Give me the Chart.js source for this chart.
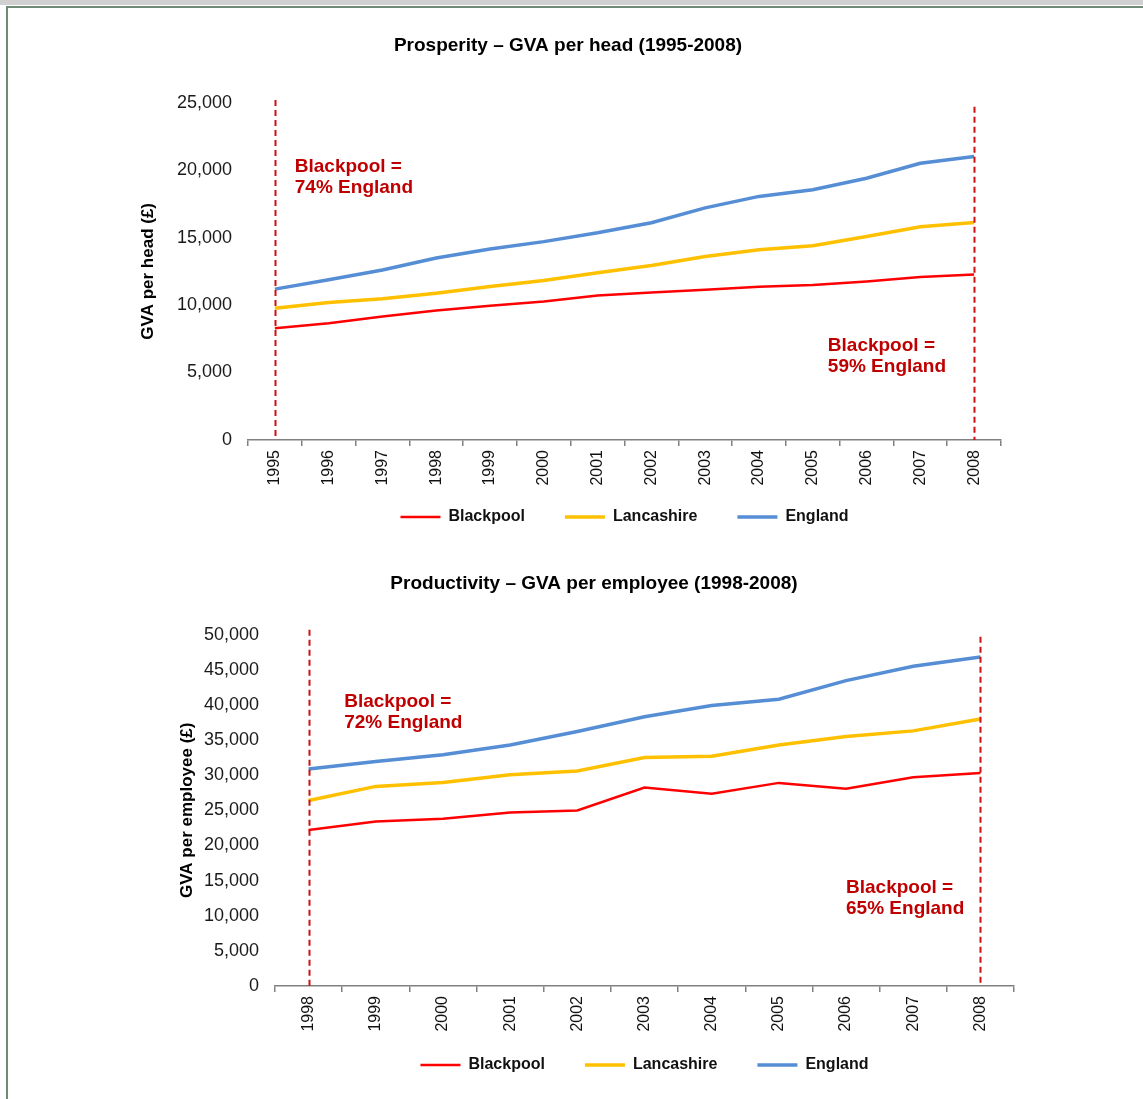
<!DOCTYPE html>
<html>
<head>
<meta charset="utf-8">
<script src="https://cdn.jsdelivr.net/npm/chart.js@4.4.1/dist/chart.umd.min.js"></script>
<style>
  html, body { margin: 0; padding: 0; background: #fff; width: 1143px; height: 1099px; overflow: hidden; }
  #strip { position: absolute; left: 0; top: 0; width: 1143px; height: 5px; background: #d0d0d0; }
  #frame { position: absolute; left: 6px; top: 6px; width: 1137px; height: 1093px; border-top: 2px solid #708a78; border-left: 2px solid #708a78; box-sizing: border-box; }
  .wrap { position: absolute; left: 0; width: 1143px; }
  #w1 { top: 10px; height: 553px; }
  #w2 { top: 540px; height: 567px; }
</style>
</head>
<body>
<div id="strip"></div>
<div id="frame"></div>
<div class="wrap" id="w1"><canvas id="c1"></canvas></div>
<div class="wrap" id="w2"><canvas id="c2"></canvas></div>
<script>
// ---------- DATA ----------
const seriesNames = ['Blackpool', 'Lancashire', 'England'];

const yearsHead = ['1995','1996','1997','1998','1999','2000','2001','2002','2003','2004','2005','2006','2007','2008'];
const blackpoolHead  = [8280, 8650, 9150, 9600, 9940, 10260, 10700, 10930, 11130, 11350, 11480, 11750, 12070, 12260];
const lancashireHead = [9770, 10190, 10460, 10880, 11370, 11820, 12400, 12930, 13600, 14100, 14400, 15080, 15800, 16120];
const englandHead    = [11180, 11870, 12600, 13480, 14150, 14700, 15350, 16100, 17200, 18050, 18550, 19400, 20500, 21000];

const yearsEmp = ['1998','1999','2000','2001','2002','2003','2004','2005','2006','2007','2008'];
const blackpoolEmp  = [22200, 23400, 23800, 24700, 24970, 28250, 27350, 28900, 28060, 29700, 30300];
const lancashireEmp = [26400, 28400, 28960, 30060, 30600, 32500, 32700, 34300, 35500, 36300, 38000];
const englandEmp    = [30870, 31950, 32900, 34300, 36200, 38300, 39900, 40800, 43450, 45500, 46800];

const noteHeadStart = ['Blackpool =', '74% England'];
const noteHeadEnd   = ['Blackpool =', '59% England'];
const noteEmpStart  = ['Blackpool =', '72% England'];
const noteEmpEnd    = ['Blackpool =', '65% England'];

// ---------- STYLE ----------
const FONT = '"Liberation Sans", Arial, Helvetica, sans-serif';
const colors = ['#ff0000', '#ffc000', '#558ed5'];
const widths = [2.5, 3.5, 3.5];

const annotPlugin = {
  id: 'annot',
  afterLayout(chart, args, opts) {
    // pull the legend row up closer to the rotated year labels
    const lg = chart.legend;
    if (lg && opts.legendShift) { lg.top += opts.legendShift; lg.bottom += opts.legendShift; }
  },
  afterDatasetsDraw(chart, args, opts) {
    const ctx = chart.ctx, x = chart.scales.x, y = chart.scales.y;
    ctx.save();
    ctx.strokeStyle = '#cc1111';
    ctx.lineWidth = 2;
    ctx.setLineDash([6, 4]);
    (opts.lines || []).forEach(l => {
      const px = Math.round(x.getPixelForValue(l.index)) + 0.5;
      ctx.beginPath();
      ctx.moveTo(px, y.getPixelForValue(l.from));
      ctx.lineTo(px, y.getPixelForValue(l.to));
      ctx.stroke();
    });
    ctx.setLineDash([]);
    ctx.fillStyle = '#c00000';
    ctx.font = 'bold 19px ' + FONT;
    ctx.textAlign = 'left';
    ctx.textBaseline = 'middle';
    (opts.notes || []).forEach(n => {
      const px = x.getPixelForValue(n.x);
      const py = y.getPixelForValue(n.y);
      n.text.forEach((t, i) => ctx.fillText(t, px, py + i * 21));
    });
    ctx.restore();
  }
};

function makeChart(id, cfg) {
  const datasets = cfg.series.map((d, i) => ({
    label: seriesNames[i],
    data: d,
    borderColor: colors[i],
    backgroundColor: colors[i],
    borderWidth: widths[i],
    pointRadius: 0,
    pointHoverRadius: 0,
    tension: 0,
    fill: false
  }));
  return new Chart(document.getElementById(id), {
    type: 'line',
    data: { labels: cfg.labels, datasets },
    plugins: [annotPlugin],
    options: {
      responsive: true,
      maintainAspectRatio: false,
      animation: false,
      events: [],
      layout: { padding: cfg.padding },
      plugins: {
        title: {
          display: true,
          text: cfg.title,
          color: '#000',
          font: { family: FONT, size: 19, weight: 'bold' },
          padding: cfg.titlePadding
        },
        legend: {
          position: 'bottom',
          fullSize: false,
          labels: {
            usePointStyle: true,
            pointStyle: 'line',
            pointStyleWidth: 40,
            padding: 40,
            color: '#111',
            font: { family: FONT, size: 16, weight: 'bold' }
          }
        },
        tooltip: { enabled: false },
        annot: cfg.annot
      },
      scales: {
        x: {
          type: 'category',
          offset: true,
          afterFit: s => { s.height = cfg.xHeight; },
          grid: { display: true, drawOnChartArea: false, drawTicks: true, tickLength: 6, offset: true, color: '#808080', lineWidth: 1.5 },
          border: { display: true, color: '#808080', width: 1.5 },
          ticks: { autoSkip: false, maxRotation: 90, minRotation: 90, padding: 4, color: '#111', font: { family: FONT, size: 16 } }
        },
        y: {
          min: 0,
          max: cfg.yMax,
          afterFit: s => { s.width = cfg.yWidth; },
          grid: { display: false, drawTicks: false },
          border: { display: false },
          ticks: { stepSize: cfg.yStep, padding: 16, color: '#1a1a1a', font: { family: FONT, size: 18 } },
          title: { display: true, text: cfg.yTitle, color: '#000', padding: { top: 3, bottom: 3 }, font: { family: FONT, size: 17, weight: 'bold' } }
        }
      }
    }
  });
}

makeChart('c1', {
  labels: yearsHead,
  series: [blackpoolHead, lancashireHead, englandHead],
  title: 'Prosperity \u2013 GVA per head (1995-2008)',
  titlePadding: { top: 24, bottom: 45.8 },
  padding: { left: 135, right: 142, top: 0, bottom: 5 },
  xHeight: 52,
  yWidth: 113,
  yMax: 25000,
  yStep: 5000,
  yTitle: 'GVA per head (\u00a3)',
  annot: {
    legendShift: -23,
    lines: [{ index: 0, from: 25200, to: 0 }, { index: 13, from: 24700, to: 0 }],
    notes: [{ x: 0.37, y: 20250, text: noteHeadStart }, { x: 10.28, y: 6970, text: noteHeadEnd }]
  }
});

makeChart('c2', {
  labels: yearsEmp,
  series: [blackpoolEmp, lancashireEmp, englandEmp],
  title: 'Productivity \u2013 GVA per employee (1998-2008)',
  titlePadding: { top: 32, bottom: 39.8 },
  padding: { left: 174, right: 129, top: 0, bottom: 5 },
  xHeight: 50,
  yWidth: 101,
  yMax: 50000,
  yStep: 5000,
  yTitle: 'GVA per employee (\u00a3)',
  annot: {
    legendShift: -19,
    lines: [{ index: 0, from: 50700, to: 0 }, { index: 10, from: 49700, to: 0 }],
    notes: [{ x: 0.53, y: 40450, text: noteEmpStart }, { x: 8.0, y: 13960, text: noteEmpEnd }]
  }
});
</script>
</body>
</html>
